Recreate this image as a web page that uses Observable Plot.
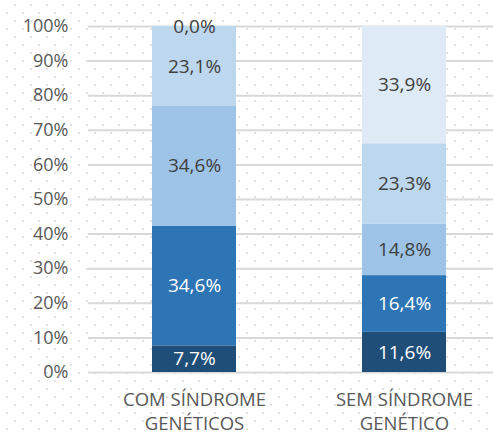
<!DOCTYPE html>
<html>
<head>
<meta charset="utf-8">
<script src="https://cdn.jsdelivr.net/npm/d3@7"></script>
<script src="https://cdn.jsdelivr.net/npm/@observablehq/plot@0.6"></script>
<style>
  html, body { margin: 0; padding: 0; }
  body {
    width: 493px; height: 434px; overflow: hidden;
    background-color: #ffffff;
    background-image: url("data:image/svg+xml;utf8,<svg xmlns='http://www.w3.org/2000/svg' width='16' height='16'><rect x='6' y='12' width='2' height='2' fill='%23e2e2e2'/><rect x='14' y='4' width='2' height='2' fill='%23e2e2e2'/></svg>");
    background-size: 16px 16px;
  }
</style>
</head>
<body>
<div id="chart"></div>
<script>
const categories = ["COM SÍNDROME\nGENÉTICOS", "SEM SÍNDROME\nGENÉTICO"];
const series = ["Série 1", "Série 2", "Série 3", "Série 4", "Série 5"];
const serie1 = [7.7, 11.6];
const serie2 = [34.6, 16.4];
const serie3 = [34.6, 14.8];
const serie4 = [23.1, 23.3];
const serie5 = [0.0, 33.9];
const yTicks = [0, 10, 20, 30, 40, 50, 60, 70, 80, 90, 100];

const seriesValues = [serie1, serie2, serie3, serie4, serie5];
const colors = ["#1f4e79", "#2e75b6", "#9dc3e6", "#bdd7ee", "#deebf7"];
const labelColors = ["#ffffff", "#ffffff", "#404040", "#404040", "#404040"];

const data = [];
categories.forEach((c, i) => {
  series.forEach((s, j) => {
    data.push({category: c, series: s, value: seriesValues[j][i]});
  });
});

const fmt = v => v.toFixed(1).replace(".", ",") + "%";
const idx = d => series.indexOf(d.series);

const chart = Plot.plot({
  width: 493,
  height: 434,
  marginLeft: 88,
  marginRight: 0,
  marginTop: 26,
  marginBottom: 62,
  style: {background: "transparent", fontFamily: "'Open Sans', sans-serif", overflow: "visible"},
  x: {domain: categories, range: [88, 509], paddingInner: 0.6, paddingOuter: 0.3, axis: null},
  y: {domain: [0, 100], axis: null},
  marks: [
    Plot.ruleY(yTicks, {stroke: "#d9d9d9", strokeWidth: 2}),
    Plot.barY(data, Plot.stackY({x: "category", y: "value", fill: d => colors[idx(d)]})),
    Plot.text(data, Plot.stackY({
      x: "category", y: "value",
      text: d => fmt(d.value),
      fill: d => labelColors[idx(d)],
      fontSize: 19
    })),
    Plot.axisY(yTicks, {tickSize: 0, tickPadding: 20, tickFormat: d => d + "%", fontSize: 18, fill: "#595959", label: null}),
    Plot.axisX({tickSize: 0, tickPadding: 16, fontSize: 18.5, fill: "#595959", lineHeight: 1.3, label: null})
  ]
});
document.getElementById("chart").appendChild(chart);
</script>
</body>
</html>
